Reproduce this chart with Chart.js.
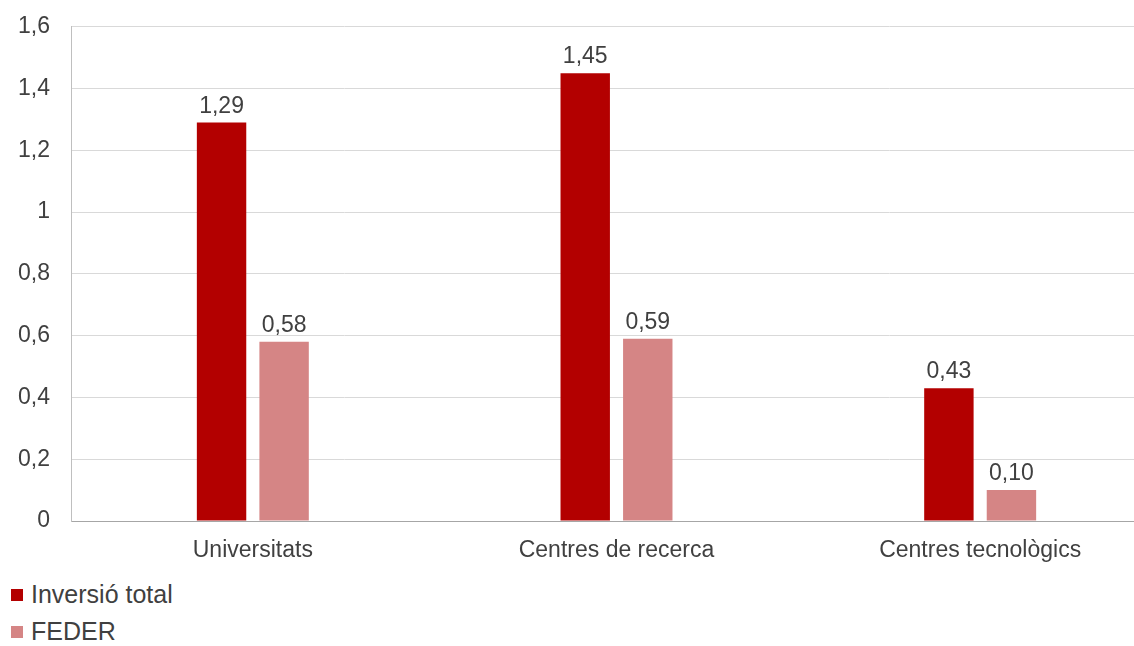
<!DOCTYPE html>
<html>
<head>
<meta charset="utf-8">
<script src="https://cdn.jsdelivr.net/npm/chart.js@4/dist/chart.umd.min.js"></script>
<style>
  body { margin: 0; background: #fff; overflow: hidden; width: 1134px; height: 646px; position: relative; }
  #grafica { position: absolute; left: 0; top: -8px; }
  #llegenda { position: absolute; left: 11px; top: 576px; font-family: "Liberation Sans", Arial, sans-serif; font-size: 25px; color: #404040; }
  #llegenda div { height: 37px; line-height: 37px; white-space: nowrap; }
  #llegenda span.quadre { display: inline-block; width: 12px; height: 12px; margin-right: 8px; vertical-align: 2px; }
</style>
</head>
<body>
<canvas id="grafica" width="1162" height="583"></canvas>
<div id="llegenda"></div>
<script>
// Dades del gràfic
const categories = ["Universitats", "Centres de recerca", "Centres tecnològics"];
const inversioTotal = [1.29, 1.45, 0.43];
const feder = [0.58, 0.59, 0.10];
const nomsSeries = ["Inversió total", "FEDER"];
const colors = ["#B30000", "#D58585"];

const colorText = "#404040";
const font = "Liberation Sans, Arial, sans-serif";

// etiquetes de valor damunt de cada barra
const etiquetesValor = {
    id: "etiquetesValor",
    afterDatasetsDraw(chart) {
        const ctx = chart.ctx;
        ctx.save();
        ctx.font = "23px " + font;
        ctx.fillStyle = colorText;
        ctx.textAlign = "center";
        ctx.textBaseline = "alphabetic";
        chart.data.datasets.forEach((ds, i) => {
            chart.getDatasetMeta(i).data.forEach((bar, j) => {
                ctx.fillText(ds.data[j].toFixed(2).replace(".", ","), bar.x, bar.y - 10);
            });
        });
        ctx.restore();
    }
};

const grafica = new Chart(document.getElementById("grafica").getContext("2d"), {
    type: "bar",
    data: {
        labels: categories,
        datasets: [
            { label: nomsSeries[0], data: inversioTotal, backgroundColor: colors[0] },
            { label: nomsSeries[1], data: feder, backgroundColor: colors[1] }
        ]
    },
    options: {
        responsive: false,
        animation: false,
        layout: { padding: { top: 18, right: 0, left: 0, bottom: 0 } },
        datasets: {
            bar: { categoryPercentage: 0.344, barPercentage: 0.79 }
        },
        plugins: {
            legend: { display: false },
            tooltip: { enabled: false }
        },
        scales: {
            x: {
                grid: { display: false, drawTicks: false },
                border: { display: true, color: "#A6A6A6" },
                ticks: { color: colorText, font: { family: font, size: 23 }, padding: 16, maxRotation: 0 },
                afterFit(scale) { scale.height = 54; }
            },
            y: {
                min: 0,
                max: 1.6,
                grid: { color: "#D9D9D9", drawTicks: false },
                border: { display: true, color: "#BFBFBF" },
                ticks: {
                    stepSize: 0.2,
                    color: colorText,
                    font: { family: font, size: 23 },
                    padding: 21,
                    callback: v => String(Math.round(v * 10) / 10).replace(".", ",")
                },
                afterFit(scale) { scale.width = 71; }
            }
        }
    },
    plugins: [etiquetesValor]
});

// llegenda vertical a sota, a l'esquerra
const llegenda = document.getElementById("llegenda");
grafica.data.datasets.forEach(ds => {
    const fila = document.createElement("div");
    const quadre = document.createElement("span");
    quadre.className = "quadre";
    quadre.style.background = ds.backgroundColor;
    fila.appendChild(quadre);
    fila.appendChild(document.createTextNode(ds.label));
    llegenda.appendChild(fila);
});
</script>
</body>
</html>
